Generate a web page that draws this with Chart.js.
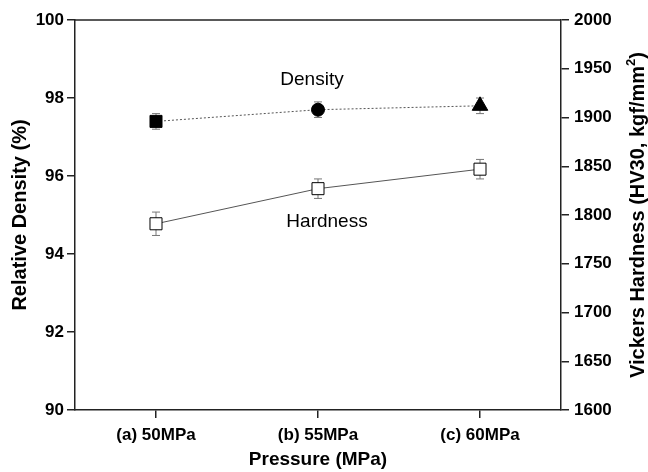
<!DOCTYPE html>
<html>
<head>
  <script src="https://cdn.jsdelivr.net/npm/chart.js"></script>
  <title>Density and Hardness</title>
  <style>
    body { margin: 0; background: #fff; }
    canvas { display: block; }
  </style>
</head>
<body>
  <canvas id="chart" width="648" height="472"></canvas>

  <script>
    // Data
    const pressureLabels = ['(a) 50MPa', '(b) 55MPa', '(c) 60MPa'];
    const densityValues = [97.4, 97.7, 97.8];
    const densityErrors = [0.2, 0.2, 0.2];
    const hardnessValues = [1791, 1827, 1847];
    const hardnessErrors = [12, 10, 10];

    const FONT = 'Arial, "Liberation Sans", sans-serif';
    const AXIS_COLOR = '#222';

    // Error bars under the markers, plus frame top, series labels, right title
    const extras = {
      id: 'extras',
      beforeDatasetsDraw(chart) {
        const ctx = chart.ctx;
        const x = chart.scales.x;
        const sets = [
          { axis: chart.scales.y, vals: densityValues, errs: densityErrors },
          { axis: chart.scales.y1, vals: hardnessValues, errs: hardnessErrors }
        ];
        ctx.save();
        ctx.strokeStyle = '#777';
        ctx.lineWidth = 1;
        sets.forEach(s => {
          s.vals.forEach((v, i) => {
            const px = x.getPixelForValue(i);
            const top = s.axis.getPixelForValue(v + s.errs[i]);
            const bot = s.axis.getPixelForValue(v - s.errs[i]);
            ctx.beginPath();
            ctx.moveTo(px, top); ctx.lineTo(px, bot);
            ctx.moveTo(px - 4, top); ctx.lineTo(px + 4, top);
            ctx.moveTo(px - 4, bot); ctx.lineTo(px + 4, bot);
            ctx.stroke();
          });
        });
        ctx.restore();
      },
      afterDraw(chart) {
        const ctx = chart.ctx;
        const a = chart.chartArea;
        ctx.save();
        ctx.strokeStyle = AXIS_COLOR;
        ctx.lineWidth = 1.5;
        ctx.beginPath();
        ctx.moveTo(a.left, a.top); ctx.lineTo(a.right, a.top);
        ctx.stroke();

        ctx.fillStyle = '#000';
        ctx.font = '19px ' + FONT;
        ctx.textAlign = 'center';
        ctx.textBaseline = 'middle';
        const x = chart.scales.x;
        ctx.fillText('Density', x.getPixelForValue(1) - 6, chart.scales.y.getPixelForValue(98.47));
        ctx.fillText('Hardness', x.getPixelForValue(1) + 9, chart.scales.y1.getPixelForValue(1793));

        // right axis title, reading bottom to top, with a raised 2
        const main = 'Vickers Hardness (HV30, kgf/mm';
        const mainFont = 'bold 20px ' + FONT;
        const supFont = 'bold 13px ' + FONT;
        ctx.font = mainFont; const w1 = ctx.measureText(main).width; const w3 = ctx.measureText(')').width;
        ctx.font = supFont; const w2 = ctx.measureText('2').width;
        const total = w1 + w2 + w3;
        ctx.translate(638, (a.top + a.bottom) / 2);
        ctx.rotate(-Math.PI / 2);
        ctx.textAlign = 'left';
        let cx = -total / 2;
        ctx.font = mainFont; ctx.fillText(main, cx, 0); cx += w1;
        ctx.font = supFont; ctx.fillText('2', cx, -7); cx += w2;
        ctx.font = mainFont; ctx.fillText(')', cx, 0);
        ctx.restore();
      }
    };

    new Chart(document.getElementById('chart'), {
      type: 'line',
      data: {
        labels: pressureLabels,
        datasets: [
          {
            label: 'Density',
            data: densityValues,
            yAxisID: 'y',
            borderColor: '#555',
            borderWidth: 1,
            borderDash: [2, 2],
            pointStyle: ['rect', 'circle', 'triangle'],
            pointRadius: [8.5, 6.5, 9],
            pointBackgroundColor: '#000',
            pointBorderColor: '#000',
            pointBorderWidth: 1
          },
          {
            label: 'Hardness',
            data: hardnessValues,
            yAxisID: 'y1',
            borderColor: '#555',
            borderWidth: 1,
            pointStyle: 'rect',
            pointRadius: 8.5,
            pointBackgroundColor: '#fff',
            pointBorderColor: '#000',
            pointBorderWidth: 1
          }
        ]
      },
      options: {
        responsive: false,
        animation: false,
        layout: { padding: { top: 20, left: 0, right: 0, bottom: 0 } },
        plugins: { legend: { display: false }, tooltip: { enabled: false } },
        scales: {
          x: {
            offset: true,
            afterFit: s => { s.height = 62; },
            grid: { drawOnChartArea: false, tickLength: 8, color: AXIS_COLOR, lineWidth: 1.5 },
            border: { color: AXIS_COLOR, width: 1.5 },
            ticks: { color: '#000', padding: 7, font: { family: FONT, size: 17, weight: 'bold' } },
            title: { display: true, text: 'Pressure (MPa)', color: '#000', padding: { top: 1, bottom: 1 },
                     font: { family: FONT, size: 19, weight: 'bold' } }
          },
          y: {
            position: 'left',
            min: 90, max: 100,
            afterFit: s => { s.width = 75; },
            grid: { drawOnChartArea: false, tickLength: 8, color: AXIS_COLOR, lineWidth: 1.5 },
            border: { color: AXIS_COLOR, width: 1.5 },
            ticks: { stepSize: 2, color: '#000', padding: 3, font: { family: FONT, size: 17, weight: 'bold' } },
            title: { display: true, text: 'Relative Density (%)', color: '#000', padding: { top: 8, bottom: 2 },
                     font: { family: FONT, size: 20, weight: 'bold' } }
          },
          y1: {
            position: 'right',
            min: 1600, max: 2000,
            afterFit: s => { s.width = 87; },
            grid: { drawOnChartArea: false, tickLength: 8, color: AXIS_COLOR, lineWidth: 1.5 },
            border: { color: AXIS_COLOR, width: 1.5 },
            ticks: { stepSize: 50, color: '#000', padding: 5, callback: v => String(v),
                     font: { family: FONT, size: 17, weight: 'bold' } }
          }
        }
      },
      plugins: [extras]
    });
  </script>
</body>
</html>
